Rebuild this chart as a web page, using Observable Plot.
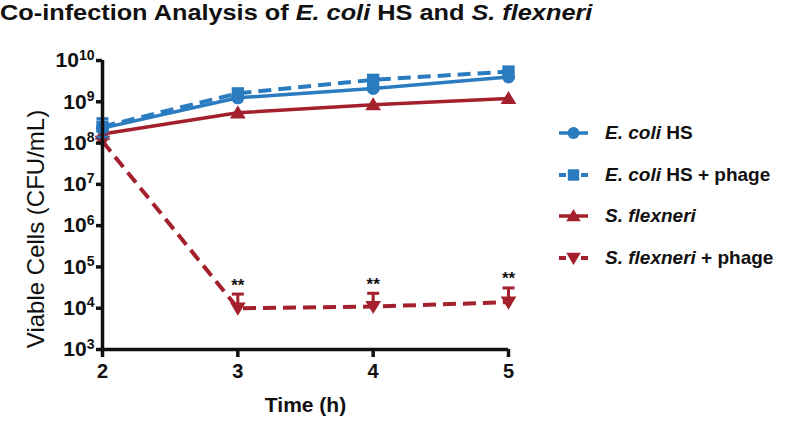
<!DOCTYPE html>
<html>
<head>
<meta charset="utf-8">
<script src="https://cdn.jsdelivr.net/npm/d3@7"></script>
<script src="https://cdn.jsdelivr.net/npm/@observablehq/plot@0.6"></script>
<style>
  body { margin: 0; background: #fff; font-family: "Liberation Sans", Arial, sans-serif; }
  #wrap { position: relative; width: 800px; height: 422px; overflow: hidden; }
  #title { height: 36px; font-weight: bold; font-size: 22px; line-height: 26px; white-space: nowrap; color: #111; }
  #title .inner { display: inline-block; transform: scaleX(1.15); transform-origin: 0 0; }
  #legend { position: absolute; left: 558px; top: 112px; }
  #legend .item { display: flex; align-items: center; height: 41.7px; font-size: 19px; font-weight: bold; color: #111; white-space: nowrap; }
  #legend svg { margin-right: 16px; }
  svg text { fill: #111; }
</style>
</head>
<body>
<div id="wrap">
  <div id="title"><span class="inner">Co-infection Analysis of <i>E. coli</i> HS and <i>S. flexneri</i></span></div>
  <div id="chart"></div>
  <div id="legend"></div>
</div>
<script>
// ---- data ----
const time = [2, 3, 4, 5];
const seriesNames = ["E. coli HS", "E. coli HS + phage", "S. flexneri", "S. flexneri + phage"];
const ecoliHS = [2.3e8, 1.25e9, 2.1e9, 4.0e9];
const ecoliHSPhage = [2.5e8, 1.6e9, 3.4e9, 5.4e9];
const sFlexneri = [1.65e8, 5.4e8, 8.5e8, 1.2e9];
const sFlexneriPhage = [1.1e8, 1.0e4, 1.1e4, 1.4e4];

// error bars (series, time, low, high)
const errSeries = ["E. coli HS + phage", "S. flexneri + phage", "S. flexneri + phage", "S. flexneri + phage"];
const errTime = [2, 3, 4, 5];
const errLow = [1.4e8, 1.0e4, 1.1e4, 1.4e4];
const errHigh = [3.9e8, 2.2e4, 2.3e4, 3.1e4];

// significance marks
const starTime = [3, 4, 5];
const starValue = [2.2e4, 2.3e4, 3.1e4];
const starLabel = ["**", "**", "**"];

const yTicks = [1e3, 1e4, 1e5, 1e6, 1e7, 1e8, 1e9, 1e10];
const xTicks = [2, 3, 4, 5];

// ---- styles ----
const BLUE = "#2a7bbf", RED = "#a3202c";
const triUp = { draw(ctx, size) { const r = Math.sqrt(size / Math.PI) * 1.15; ctx.moveTo(0, -r); ctx.lineTo(r * 1.05, r * 0.75); ctx.lineTo(-r * 1.05, r * 0.75); ctx.closePath(); } };
const triDown = { draw(ctx, size) { const r = Math.sqrt(size / Math.PI) * 1.15; ctx.moveTo(0, r); ctx.lineTo(r * 1.05, -r * 0.75); ctx.lineTo(-r * 1.05, -r * 0.75); ctx.closePath(); } };
const squareSym = { draw(ctx, size) { const r = Math.sqrt(size / Math.PI) * 0.95; ctx.rect(-r, -r, 2 * r, 2 * r); } };
const capSym = { draw(ctx, size) { const r = Math.sqrt(size / Math.PI); ctx.moveTo(-r, 0); ctx.lineTo(r, 0); } };

const styleBy = {
  "E. coli HS": { color: BLUE, dash: null, symbol: d3.symbolCircle },
  "E. coli HS + phage": { color: BLUE, dash: "13,7", symbol: squareSym },
  "S. flexneri": { color: RED, dash: null, symbol: triUp },
  "S. flexneri + phage": { color: RED, dash: "13,7", symbol: triDown }
};

const valuesBy = {
  "E. coli HS": ecoliHS,
  "E. coli HS + phage": ecoliHSPhage,
  "S. flexneri": sFlexneri,
  "S. flexneri + phage": sFlexneriPhage
};

const rows = seriesNames.flatMap(s => time.map((t, i) => ({ series: s, t, v: valuesBy[s][i] })));
const errRows = errSeries.map((s, i) => ({ series: s, t: errTime[i], lo: errLow[i], hi: errHigh[i] }));
const starRows = starTime.map((t, i) => ({ t, v: starValue[i], label: starLabel[i] }));

const drawOrder = ["S. flexneri + phage", "S. flexneri", "E. coli HS + phage", "E. coli HS"];
const marks = [];
for (const s of drawOrder) {
  const st = styleBy[s];
  const data = rows.filter(d => d.series === s);
  marks.push(Plot.line(data, { x: "t", y: "v", stroke: st.color, strokeWidth: st.dash ? 4 : 3.5, strokeDasharray: st.dash, strokeLinecap: "butt" }));
}
for (const s of drawOrder) {
  const st = styleBy[s];
  const e = errRows.filter(d => d.series === s);
  if (e.length) {
    marks.push(Plot.ruleX(e, { x: "t", y1: "lo", y2: "hi", stroke: st.color, strokeWidth: 3 }));
    marks.push(Plot.dot(e, { x: "t", y: "hi", symbol: capSym, r: 6, stroke: st.color, strokeWidth: 3, fill: "none" }));
    marks.push(Plot.dot(e.filter(d => d.t === 2), { x: "t", y: "lo", symbol: capSym, r: 6, stroke: st.color, strokeWidth: 3, fill: "none" }));
  }
  const data = rows.filter(d => d.series === s);
  marks.push(Plot.dot(data, { x: "t", y: "v", symbol: st.symbol, r: 6.5, fill: st.color, stroke: "none" }));
}

const chart = Plot.plot({
  width: 800,
  height: 386,
  marginTop: 24,
  marginBottom: 73,
  marginLeft: 102,
  marginRight: 292,
  style: { fontFamily: "'Liberation Sans', Arial, sans-serif", fontSize: "20px", fontWeight: "bold", color: "#111", background: "#fff" },
  x: { domain: [2, 5] },
  y: { type: "log", domain: [1e3, 1e10] },
  marks: [
    ...marks,
    Plot.text(starRows, { x: "t", y: "v", text: "label", dy: -9, fontSize: 17, fontWeight: "bold" }),
    Plot.ruleX([2], { stroke: "#111", strokeWidth: 3.5 }),
    Plot.ruleY([1e3], { stroke: "#111", strokeWidth: 3.5 }),
    Plot.axisX({ ticks: xTicks, tickSize: 8, tickPadding: 6, strokeWidth: 3.5, tickFormat: d => String(d), label: null, fontSize: 20 }),
    Plot.axisY({ ticks: yTicks, tickSize: 6, tickPadding: 2, strokeWidth: 3.5, tickFormat: d => "10^" + Math.round(Math.log10(d)), label: null, fontSize: 21 }),
    Plot.text(["Time (h)"], { frameAnchor: "bottom", dy: 62, fontSize: 21, fontWeight: "bold" }),
    Plot.text(["Viable Cells (CFU/mL)"], { frameAnchor: "left", textAnchor: "middle", rotate: -90, dx: -66, dy: 24, fontSize: 24, fontWeight: "normal" })
  ]
});

// superscript exponents on y tick labels
d3.select(chart).selectAll('g[aria-label="y-axis tick label"] text').each(function () {
  const txt = this.textContent;
  const m = txt.match(/^10\^(\d+)$/);
  if (!m) return;
  const el = d3.select(this);
  el.text(null);
  el.append("tspan").text("10");
  el.append("tspan").attr("dy", "-0.55em").attr("font-size", "14px").text(m[1]);
});

document.getElementById("chart").appendChild(chart);

// legend
const legend = d3.select("#legend");
const legendParts = {
  "E. coli HS": [["E. coli", true], [" HS", false]],
  "E. coli HS + phage": [["E. coli", true], [" HS + phage", false]],
  "S. flexneri": [["S. flexneri", true]],
  "S. flexneri + phage": [["S. flexneri", true], [" + phage", false]]
};
for (const s of seriesNames) {
  const st = styleBy[s];
  const item = legend.append("div").attr("class", "item");
  const sw = item.append("svg").attr("width", 31).attr("height", 20);
  if (st.dash) {
    sw.append("line").attr("x1", 1).attr("x2", 8).attr("y1", 10).attr("y2", 10).attr("stroke", st.color).attr("stroke-width", 4);
    sw.append("line").attr("x1", 23).attr("x2", 30).attr("y1", 10).attr("y2", 10).attr("stroke", st.color).attr("stroke-width", 4);
  } else {
    sw.append("line").attr("x1", 1).attr("x2", 30).attr("y1", 10).attr("y2", 10).attr("stroke", st.color).attr("stroke-width", 3.5);
  }
  sw.append("path").attr("transform", "translate(15.5,10)").attr("fill", st.color)
    .attr("d", d3.symbol(st.symbol, Math.PI * 6 * 6)());
  const label = item.append("span");
  for (const [t, it] of legendParts[s]) {
    label.append(it ? "i" : "span").text(t);
  }
}
</script>
</body>
</html>
